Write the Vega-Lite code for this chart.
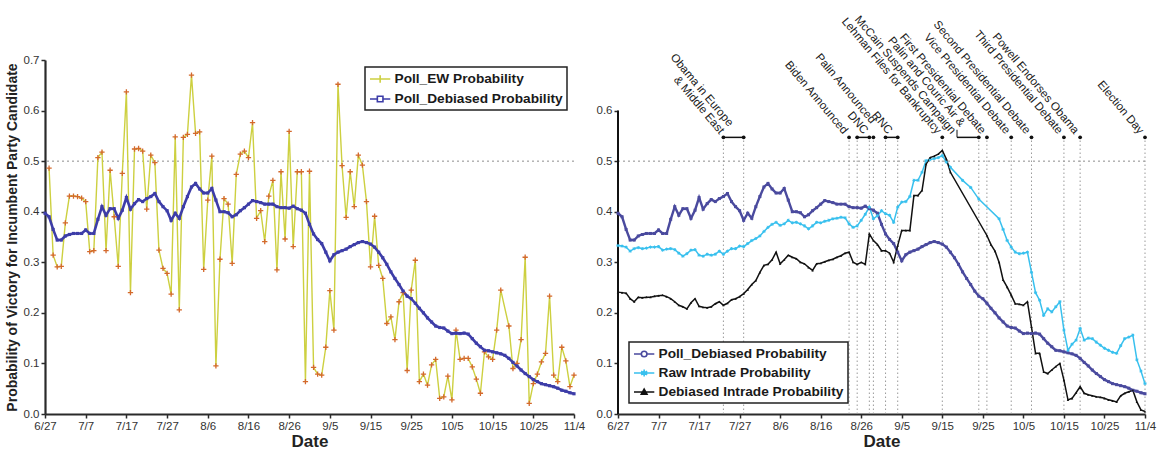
{
  "$schema": "https://vega.github.io/schema/vega-lite/v6.json",
  "background": "white",
  "padding": {"left": 5, "top": 6, "right": 5, "bottom": 2},
  "bounds": "flush",
  "spacing": 44,
  "config": {
    "view": {"stroke": null},
    "font": "Liberation Sans",
    "axis": {"domainColor": "#2a2a2a", "domainWidth": 2.2, "tickColor": "#2a2a2a", "tickSize": 4, "tickWidth": 1.5, "labelFontSize": 11.5, "labelColor": "#333", "labelFont": "Liberation Sans", "titleFont": "Liberation Sans", "titleFontWeight": "bold", "titleColor": "#222", "grid": false, "labelFlush": false},
    "legend": {"labelFont": "Liberation Sans", "labelFontSize": 13.7, "labelFontWeight": "bold", "labelColor": "#1a1a1a", "labelLimit": 0, "strokeColor": "#222", "strokeWidth": 1.5, "fillColor": "white", "padding": 4, "symbolSize": 196, "symbolStrokeWidth": 1.6, "labelOffset": 9.5, "rowPadding": 4, "title": null}
  },
  "datasets": {
    "names": [
      {"key": "ew", "series": "Poll_EW Probability"},
      {"key": "deb", "series": "Poll_Debiased Probability"},
      {"key": "raw", "series": "Raw Intrade Probability"},
      {"key": "dint", "series": "Debiased Intrade Probability"}
    ],
    "daily": [
      {"date": "2008-06-27", "ew": null, "deb": 0.397, "raw": 0.333, "dint": 0.241},
      {"date": "2008-06-28", "ew": 0.486, "deb": 0.39, "raw": 0.332, "dint": 0.24},
      {"date": "2008-06-29", "ew": 0.314, "deb": 0.365, "raw": 0.33, "dint": 0.239},
      {"date": "2008-06-30", "ew": 0.291, "deb": 0.344, "raw": 0.322, "dint": 0.228},
      {"date": "2008-07-01", "ew": 0.292, "deb": 0.344, "raw": 0.327, "dint": 0.222},
      {"date": "2008-07-02", "ew": 0.378, "deb": 0.352, "raw": 0.329, "dint": 0.231},
      {"date": "2008-07-03", "ew": 0.431, "deb": 0.355, "raw": 0.327, "dint": 0.23},
      {"date": "2008-07-04", "ew": 0.431, "deb": 0.357, "raw": 0.328, "dint": 0.231},
      {"date": "2008-07-05", "ew": 0.43, "deb": 0.357, "raw": 0.33, "dint": 0.231},
      {"date": "2008-07-06", "ew": 0.427, "deb": 0.357, "raw": 0.33, "dint": 0.233},
      {"date": "2008-07-07", "ew": 0.42, "deb": 0.364, "raw": 0.331, "dint": 0.234},
      {"date": "2008-07-08", "ew": 0.321, "deb": 0.357, "raw": 0.324, "dint": 0.235},
      {"date": "2008-07-09", "ew": 0.323, "deb": 0.357, "raw": 0.326, "dint": 0.232},
      {"date": "2008-07-10", "ew": 0.507, "deb": 0.385, "raw": 0.327, "dint": 0.228},
      {"date": "2008-07-11", "ew": 0.518, "deb": 0.41, "raw": 0.325, "dint": 0.222},
      {"date": "2008-07-12", "ew": 0.323, "deb": 0.393, "raw": 0.318, "dint": 0.215},
      {"date": "2008-07-13", "ew": 0.482, "deb": 0.406, "raw": 0.312, "dint": 0.212},
      {"date": "2008-07-14", "ew": 0.39, "deb": 0.406, "raw": 0.317, "dint": 0.208},
      {"date": "2008-07-15", "ew": 0.292, "deb": 0.387, "raw": 0.324, "dint": 0.22},
      {"date": "2008-07-16", "ew": 0.476, "deb": 0.403, "raw": 0.325, "dint": 0.228},
      {"date": "2008-07-17", "ew": 0.637, "deb": 0.428, "raw": 0.314, "dint": 0.213},
      {"date": "2008-07-18", "ew": 0.24, "deb": 0.405, "raw": 0.312, "dint": 0.211},
      {"date": "2008-07-19", "ew": 0.524, "deb": 0.416, "raw": 0.316, "dint": 0.21},
      {"date": "2008-07-20", "ew": 0.525, "deb": 0.424, "raw": 0.314, "dint": 0.212},
      {"date": "2008-07-21", "ew": 0.52, "deb": 0.42, "raw": 0.316, "dint": 0.218},
      {"date": "2008-07-22", "ew": 0.405, "deb": 0.426, "raw": 0.322, "dint": 0.222},
      {"date": "2008-07-23", "ew": 0.512, "deb": 0.43, "raw": 0.316, "dint": 0.215},
      {"date": "2008-07-24", "ew": 0.497, "deb": 0.436, "raw": 0.322, "dint": 0.219},
      {"date": "2008-07-25", "ew": 0.324, "deb": 0.42, "raw": 0.327, "dint": 0.226},
      {"date": "2008-07-26", "ew": 0.288, "deb": 0.41, "raw": 0.327, "dint": 0.228},
      {"date": "2008-07-27", "ew": 0.278, "deb": 0.402, "raw": 0.332, "dint": 0.232},
      {"date": "2008-07-28", "ew": 0.237, "deb": 0.383, "raw": 0.331, "dint": 0.238},
      {"date": "2008-07-29", "ew": 0.548, "deb": 0.397, "raw": 0.337, "dint": 0.246},
      {"date": "2008-07-30", "ew": 0.206, "deb": 0.387, "raw": 0.343, "dint": 0.256},
      {"date": "2008-07-31", "ew": 0.547, "deb": 0.41, "raw": 0.347, "dint": 0.264},
      {"date": "2008-08-01", "ew": 0.553, "deb": 0.43, "raw": 0.352, "dint": 0.28},
      {"date": "2008-08-02", "ew": 0.67, "deb": 0.449, "raw": 0.361, "dint": 0.294},
      {"date": "2008-08-03", "ew": 0.555, "deb": 0.456, "raw": 0.369, "dint": 0.296},
      {"date": "2008-08-04", "ew": 0.558, "deb": 0.445, "raw": 0.375, "dint": 0.305},
      {"date": "2008-08-05", "ew": 0.286, "deb": 0.437, "raw": 0.379, "dint": 0.32},
      {"date": "2008-08-06", "ew": 0.423, "deb": 0.437, "raw": 0.373, "dint": 0.297},
      {"date": "2008-08-07", "ew": 0.51, "deb": 0.446, "raw": 0.376, "dint": 0.305},
      {"date": "2008-08-08", "ew": 0.095, "deb": 0.423, "raw": 0.383, "dint": 0.314},
      {"date": "2008-08-09", "ew": 0.306, "deb": 0.4, "raw": 0.378, "dint": 0.31},
      {"date": "2008-08-10", "ew": 0.426, "deb": 0.4, "raw": 0.379, "dint": 0.307},
      {"date": "2008-08-11", "ew": 0.415, "deb": 0.398, "raw": 0.376, "dint": 0.3},
      {"date": "2008-08-12", "ew": 0.298, "deb": 0.39, "raw": 0.372, "dint": 0.297},
      {"date": "2008-08-13", "ew": 0.474, "deb": 0.394, "raw": 0.366, "dint": 0.29},
      {"date": "2008-08-14", "ew": 0.514, "deb": 0.402, "raw": 0.372, "dint": 0.284},
      {"date": "2008-08-15", "ew": 0.52, "deb": 0.408, "raw": 0.379, "dint": 0.297},
      {"date": "2008-08-16", "ew": 0.507, "deb": 0.415, "raw": 0.378, "dint": 0.298},
      {"date": "2008-08-17", "ew": 0.576, "deb": 0.422, "raw": 0.381, "dint": 0.301},
      {"date": "2008-08-18", "ew": 0.387, "deb": 0.42, "raw": 0.383, "dint": 0.304},
      {"date": "2008-08-19", "ew": 0.402, "deb": 0.418, "raw": 0.386, "dint": 0.306},
      {"date": "2008-08-20", "ew": 0.341, "deb": 0.415, "raw": 0.387, "dint": 0.31},
      {"date": "2008-08-21", "ew": 0.431, "deb": 0.415, "raw": 0.389, "dint": 0.313},
      {"date": "2008-08-22", "ew": 0.462, "deb": 0.415, "raw": 0.388, "dint": 0.318},
      {"date": "2008-08-23", "ew": 0.285, "deb": 0.41, "raw": 0.376, "dint": 0.32},
      {"date": "2008-08-24", "ew": 0.479, "deb": 0.408, "raw": 0.369, "dint": 0.3},
      {"date": "2008-08-25", "ew": 0.346, "deb": 0.408, "raw": 0.372, "dint": 0.296},
      {"date": "2008-08-26", "ew": 0.559, "deb": 0.407, "raw": 0.383, "dint": 0.3},
      {"date": "2008-08-27", "ew": 0.331, "deb": 0.411, "raw": 0.395, "dint": 0.296},
      {"date": "2008-08-28", "ew": 0.479, "deb": 0.406, "raw": 0.409, "dint": 0.356},
      {"date": "2008-08-29", "ew": 0.479, "deb": 0.403, "raw": 0.386, "dint": 0.343},
      {"date": "2008-08-30", "ew": 0.064, "deb": 0.397, "raw": 0.392, "dint": 0.335},
      {"date": "2008-08-31", "ew": 0.48, "deb": 0.375, "raw": 0.402, "dint": 0.323},
      {"date": "2008-09-01", "ew": 0.092, "deb": 0.356, "raw": 0.396, "dint": 0.323},
      {"date": "2008-09-02", "ew": 0.079, "deb": 0.345, "raw": 0.393, "dint": 0.318},
      {"date": "2008-09-03", "ew": 0.077, "deb": 0.337, "raw": 0.379, "dint": 0.3},
      {"date": "2008-09-04", "ew": 0.132, "deb": 0.32, "raw": 0.409, "dint": 0.333},
      {"date": "2008-09-05", "ew": 0.244, "deb": 0.303, "raw": 0.419, "dint": 0.363},
      {"date": "2008-09-06", "ew": 0.166, "deb": 0.315, "raw": 0.42, "dint": 0.363},
      {"date": "2008-09-07", "ew": 0.652, "deb": 0.32, "raw": 0.43, "dint": 0.363},
      {"date": "2008-09-08", "ew": 0.491, "deb": 0.323, "raw": 0.462, "dint": 0.432},
      {"date": "2008-09-09", "ew": 0.389, "deb": 0.326, "raw": 0.462, "dint": 0.432},
      {"date": "2008-09-10", "ew": 0.479, "deb": 0.331, "raw": 0.478, "dint": 0.442},
      {"date": "2008-09-11", "ew": 0.41, "deb": 0.335, "raw": 0.501, "dint": 0.494},
      {"date": "2008-09-12", "ew": 0.512, "deb": 0.339, "raw": 0.503, "dint": 0.507},
      {"date": "2008-09-13", "ew": 0.492, "deb": 0.341, "raw": 0.505, "dint": 0.51},
      {"date": "2008-09-14", "ew": 0.42, "deb": 0.339, "raw": 0.507, "dint": 0.514},
      {"date": "2008-09-15", "ew": 0.291, "deb": 0.336, "raw": 0.511, "dint": 0.521},
      {"date": "2008-09-16", "ew": 0.391, "deb": 0.33, "raw": 0.498, "dint": 0.504},
      {"date": "2008-09-17", "ew": 0.294, "deb": 0.32, "raw": 0.488, "dint": 0.478},
      {"date": "2008-09-18", "ew": 0.268, "deb": 0.309, "raw": null, "dint": null},
      {"date": "2008-09-19", "ew": 0.179, "deb": 0.296, "raw": null, "dint": null},
      {"date": "2008-09-20", "ew": 0.192, "deb": 0.281, "raw": 0.462, "dint": null},
      {"date": "2008-09-21", "ew": 0.147, "deb": 0.268, "raw": null, "dint": null},
      {"date": "2008-09-22", "ew": 0.222, "deb": 0.256, "raw": 0.448, "dint": null},
      {"date": "2008-09-23", "ew": 0.24, "deb": 0.243, "raw": null, "dint": null},
      {"date": "2008-09-24", "ew": 0.086, "deb": 0.233, "raw": 0.425, "dint": null},
      {"date": "2008-09-25", "ew": 0.245, "deb": 0.228, "raw": null, "dint": null},
      {"date": "2008-09-26", "ew": 0.304, "deb": 0.219, "raw": null, "dint": 0.353},
      {"date": "2008-09-27", "ew": 0.064, "deb": 0.209, "raw": null, "dint": 0.335},
      {"date": "2008-09-28", "ew": 0.079, "deb": 0.2, "raw": null, "dint": 0.322},
      {"date": "2008-09-29", "ew": 0.057, "deb": 0.19, "raw": 0.386, "dint": 0.3},
      {"date": "2008-09-30", "ew": 0.097, "deb": 0.182, "raw": 0.365, "dint": 0.265},
      {"date": "2008-10-01", "ew": 0.108, "deb": 0.174, "raw": 0.343, "dint": 0.251},
      {"date": "2008-10-02", "ew": 0.031, "deb": 0.171, "raw": 0.33, "dint": 0.235},
      {"date": "2008-10-03", "ew": 0.034, "deb": 0.17, "raw": 0.32, "dint": 0.218},
      {"date": "2008-10-04", "ew": 0.075, "deb": 0.164, "raw": 0.317, "dint": 0.217},
      {"date": "2008-10-05", "ew": 0.028, "deb": 0.159, "raw": 0.318, "dint": 0.215},
      {"date": "2008-10-06", "ew": 0.166, "deb": 0.16, "raw": 0.32, "dint": 0.222},
      {"date": "2008-10-07", "ew": 0.108, "deb": 0.159, "raw": 0.28, "dint": 0.172},
      {"date": "2008-10-08", "ew": 0.11, "deb": 0.16, "raw": 0.24, "dint": 0.12},
      {"date": "2008-10-09", "ew": 0.11, "deb": 0.158, "raw": 0.225, "dint": 0.12},
      {"date": "2008-10-10", "ew": 0.093, "deb": 0.149, "raw": 0.195, "dint": 0.083},
      {"date": "2008-10-11", "ew": 0.069, "deb": 0.14, "raw": 0.208, "dint": 0.08},
      {"date": "2008-10-12", "ew": 0.041, "deb": 0.133, "raw": 0.202, "dint": 0.087},
      {"date": "2008-10-13", "ew": 0.123, "deb": 0.126, "raw": 0.212, "dint": 0.094},
      {"date": "2008-10-14", "ew": 0.113, "deb": 0.125, "raw": 0.222, "dint": 0.1},
      {"date": "2008-10-15", "ew": 0.108, "deb": 0.123, "raw": 0.166, "dint": 0.067},
      {"date": "2008-10-16", "ew": 0.166, "deb": 0.121, "raw": 0.126, "dint": 0.028},
      {"date": "2008-10-17", "ew": 0.245, "deb": 0.119, "raw": 0.138, "dint": 0.031},
      {"date": "2008-10-18", "ew": null, "deb": 0.116, "raw": 0.146, "dint": 0.042},
      {"date": "2008-10-19", "ew": 0.174, "deb": 0.11, "raw": 0.169, "dint": 0.054},
      {"date": "2008-10-20", "ew": 0.09, "deb": 0.102, "raw": 0.146, "dint": 0.041},
      {"date": "2008-10-21", "ew": 0.1, "deb": 0.095, "raw": 0.15, "dint": 0.038},
      {"date": "2008-10-22", "ew": 0.147, "deb": 0.087, "raw": 0.149, "dint": 0.036},
      {"date": "2008-10-23", "ew": 0.31, "deb": 0.08, "raw": 0.142, "dint": 0.034},
      {"date": "2008-10-24", "ew": 0.021, "deb": 0.074, "raw": 0.136, "dint": 0.033},
      {"date": "2008-10-25", "ew": 0.06, "deb": 0.068, "raw": 0.13, "dint": 0.031},
      {"date": "2008-10-26", "ew": 0.079, "deb": 0.064, "raw": 0.126, "dint": 0.028},
      {"date": "2008-10-27", "ew": 0.103, "deb": 0.06, "raw": 0.122, "dint": 0.026},
      {"date": "2008-10-28", "ew": 0.12, "deb": 0.058, "raw": 0.12, "dint": 0.024},
      {"date": "2008-10-29", "ew": 0.233, "deb": 0.056, "raw": 0.135, "dint": 0.036},
      {"date": "2008-10-30", "ew": 0.077, "deb": 0.054, "raw": 0.149, "dint": 0.041},
      {"date": "2008-10-31", "ew": 0.064, "deb": 0.051, "raw": 0.152, "dint": 0.044},
      {"date": "2008-11-01", "ew": 0.132, "deb": 0.047, "raw": 0.156, "dint": 0.047},
      {"date": "2008-11-02", "ew": 0.105, "deb": 0.045, "raw": 0.107, "dint": 0.024},
      {"date": "2008-11-03", "ew": 0.054, "deb": 0.042, "raw": 0.085, "dint": 0.008},
      {"date": "2008-11-04", "ew": 0.077, "deb": 0.04, "raw": 0.06, "dint": 0.005}
    ],
    "events": [
      {"date": "2008-07-23"}, {"date": "2008-07-28"}, {"date": "2008-08-23"}, {"date": "2008-08-25"},
      {"date": "2008-08-28"}, {"date": "2008-08-29"}, {"date": "2008-09-01"}, {"date": "2008-09-04"},
      {"date": "2008-09-15"}, {"date": "2008-09-24"}, {"date": "2008-09-26"}, {"date": "2008-10-02"},
      {"date": "2008-10-07"}, {"date": "2008-10-15"}, {"date": "2008-10-19"}, {"date": "2008-11-04"}
    ],
    "spans": [
      {"start": "2008-07-23", "end": "2008-07-28"},
      {"start": "2008-08-25", "end": "2008-08-28"},
      {"start": "2008-09-01", "end": "2008-09-04"},
      {"start": "2008-09-18T15:00:00Z", "end": "2008-09-24"}
    ],
    "labels": [
      {"at": "2008-07-23T12:00:00Z", "label": "Obama in Europe\n& Middle East"},
      {"at": "2008-08-23", "label": "Biden Announced"},
      {"at": "2008-08-28", "label": "DNC"},
      {"at": "2008-08-29T12:00:00Z", "label": "Palin Announced"},
      {"at": "2008-09-03", "label": "RNC"},
      {"at": "2008-09-15", "label": "Lehman Files for Bankruptcy"},
      {"at": "2008-09-18T15:00:00Z", "label": "Palin and Couric Air &\nMcCain Suspends Campaign"},
      {"at": "2008-09-26", "label": "First Presidential Debate"},
      {"at": "2008-10-02", "label": "Vice Presidential Debate"},
      {"at": "2008-10-07", "label": "Second Presidential Debate"},
      {"at": "2008-10-15", "label": "Third Presidential Debate"},
      {"at": "2008-10-19", "label": "Powell Endorses Obama"},
      {"at": "2008-11-04", "label": "Election Day"}
    ]
  },
  "resolve": {"scale": {"color": "independent"}, "legend": {"color": "independent"}},
  "hconcat": [
    {
      "width": 529,
      "height": 354,
      "data": {"name": "daily"},
      "transform": [
        {"fold": ["ew", "deb"], "as": ["key", "value"]},
        {"filter": "isValid(datum.value)"},
        {"lookup": "key", "from": {"data": {"name": "names"}, "key": "key", "fields": ["series"]}}
      ],
      "layer": [
        {
          "transform": [{"aggregate": [{"op": "count", "as": "n"}]}],
          "mark": {"type": "rule", "color": "#8c8c8c", "strokeDash": [2, 3], "strokeWidth": 1},
          "encoding": {"y": {"datum": 0.5, "type": "quantitative"}}
        },
        {
          "transform": [{"filter": "datum.key === 'ew'"}],
          "mark": {"type": "line", "strokeWidth": 1.4},
          "encoding": {
            "x": {"field": "date", "type": "temporal", "title": "Date",
              "scale": {"type": "utc", "domain": [{"year": 2008, "month": 6, "date": 27, "utc": true}, {"year": 2008, "month": 11, "date": 4, "utc": true}]},
              "axis": {"values": [
                {"year": 2008, "month": 6, "date": 27, "utc": true}, {"year": 2008, "month": 7, "date": 7, "utc": true},
                {"year": 2008, "month": 7, "date": 17, "utc": true}, {"year": 2008, "month": 7, "date": 27, "utc": true},
                {"year": 2008, "month": 8, "date": 6, "utc": true}, {"year": 2008, "month": 8, "date": 16, "utc": true},
                {"year": 2008, "month": 8, "date": 26, "utc": true}, {"year": 2008, "month": 9, "date": 5, "utc": true},
                {"year": 2008, "month": 9, "date": 15, "utc": true}, {"year": 2008, "month": 9, "date": 25, "utc": true},
                {"year": 2008, "month": 10, "date": 5, "utc": true}, {"year": 2008, "month": 10, "date": 15, "utc": true},
                {"year": 2008, "month": 10, "date": 25, "utc": true}, {"year": 2008, "month": 11, "date": 4, "utc": true}],
                "labelExpr": "utcFormat(datum.value, '%-m/%-d')", "titleFontSize": 17, "titlePadding": 2}},
            "y": {"field": "value", "type": "quantitative",
              "scale": {"domain": [0, 0.7], "nice": false},
              "axis": {"values": [0, 0.1, 0.2, 0.3, 0.4, 0.5, 0.6, 0.7], "format": ".1f", "title": "Probability of Victory for Incumbent Party Candidate", "titleFontSize": 14, "titlePadding": 4}},
            "color": {"field": "series", "type": "nominal",
              "scale": {"domain": ["Poll_EW Probability", "Poll_Debiased Probability"], "range": ["#cdd040", "#3d3da8"]},
              "legend": {"orient": "top-right", "offset": 7,
                "encode": {"symbols": {"update": {
                  "shape": {"signal": "datum.value === 'Poll_EW Probability' ? 'M-1,0H1.9M0.45,-0.55V0.55M-0.1,0H1' : 'M-1,0H0.05M0.85,0H1.9M0.05,-0.4H0.85V0.4H0.05Z'"},
                  "fill": {"value": "transparent"},
                  "strokeWidth": {"value": 1.6}}}}}}
          }
        },
        {
          "transform": [{"filter": "datum.key === 'deb'"}],
          "mark": {"type": "line", "strokeWidth": 2.6},
          "encoding": {
            "x": {"field": "date", "type": "temporal"},
            "y": {"field": "value", "type": "quantitative"},
            "color": {"field": "series", "type": "nominal"}
          }
        },
        {
          "transform": [{"filter": "datum.key === 'ew'"}],
          "mark": {"type": "point", "shape": "M-1,0H1M0,-1V1", "filled": false, "stroke": "#d4692c", "size": 28, "strokeWidth": 1.3, "opacity": 1},
          "encoding": {
            "x": {"field": "date", "type": "temporal"},
            "y": {"field": "value", "type": "quantitative"}
          }
        },
        {
          "transform": [{"filter": "datum.key === 'deb'"}],
          "mark": {"type": "point", "shape": "square", "filled": true, "color": "#3d3da8", "size": 10, "opacity": 1},
          "encoding": {
            "x": {"field": "date", "type": "temporal"},
            "y": {"field": "value", "type": "quantitative"}
          }
        }
      ]
    },
    {
      "width": 527,
      "height": 354,
      "data": {"name": "daily"},
      "transform": [
        {"fold": ["deb", "raw", "dint"], "as": ["key", "value"]},
        {"filter": "isValid(datum.value)"},
        {"lookup": "key", "from": {"data": {"name": "names"}, "key": "key", "fields": ["series"]}}
      ],
      "layer": [
        {
          "transform": [{"aggregate": [{"op": "count", "as": "n"}]}],
          "mark": {"type": "rule", "color": "#8c8c8c", "strokeDash": [2, 3], "strokeWidth": 1},
          "encoding": {"y": {"datum": 0.5, "type": "quantitative"}}
        },
        {
          "data": {"name": "events"},
          "mark": {"type": "rule", "color": "#9a9a9a", "strokeDash": [1.5, 2.5], "strokeWidth": 1},
          "encoding": {
            "x": {"field": "date", "type": "temporal"},
            "y": {"datum": 0, "type": "quantitative"},
            "y2": {"datum": 0.547}
          }
        },
        {
          "data": {"name": "spans"},
          "mark": {"type": "rule", "color": "#111", "strokeWidth": 1.5},
          "encoding": {
            "x": {"field": "start", "type": "temporal"},
            "x2": {"field": "end"},
            "y": {"datum": 0.547, "type": "quantitative"}
          }
        },
        {
          "data": {"values": [{"date": "2008-09-18T15:00:00Z"}]},
          "mark": {"type": "rule", "color": "#111", "strokeWidth": 1},
          "encoding": {
            "x": {"field": "date", "type": "temporal"},
            "y": {"datum": 0.547, "type": "quantitative"},
            "y2": {"datum": 0.562}
          }
        },
        {
          "data": {"name": "events"},
          "mark": {"type": "point", "shape": "circle", "filled": true, "color": "#111", "size": 14, "opacity": 1},
          "encoding": {
            "x": {"field": "date", "type": "temporal"},
            "y": {"datum": 0.547, "type": "quantitative"}
          }
        },
        {
          "data": {"name": "labels"},
          "transform": [{"filter": "indexof(datum.label, '\\n') < 0 && datum.label !== 'Palin Announced'"}],
          "mark": {"type": "text", "angle": 50, "align": "right", "baseline": "bottom", "dx": -6, "dy": 5, "fontSize": 11.6, "font": "Liberation Sans", "color": "#1a1a1a"},
          "encoding": {
            "x": {"field": "at", "type": "temporal"},
            "y": {"datum": 0.547, "type": "quantitative"},
            "text": {"field": "label"}
          }
        },
        {
          "data": {"name": "labels"},
          "transform": [{"filter": "indexof(datum.label, '\\n') >= 0"}],
          "mark": {"type": "text", "angle": 50, "align": "right", "baseline": "bottom", "dx": -6, "dy": -6.8, "fontSize": 11.6, "font": "Liberation Sans", "color": "#1a1a1a", "lineBreak": "\n", "lineHeight": 11.8},
          "encoding": {
            "x": {"field": "at", "type": "temporal"},
            "y": {"datum": 0.547, "type": "quantitative"},
            "text": {"field": "label"}
          }
        },
        {
          "data": {"name": "labels"},
          "transform": [{"filter": "datum.label === 'Palin Announced'"}],
          "mark": {"type": "text", "angle": 50, "align": "right", "baseline": "bottom", "dx": -13, "dy": -3, "fontSize": 11.6, "font": "Liberation Sans", "color": "#1a1a1a"},
          "encoding": {
            "x": {"field": "at", "type": "temporal"},
            "y": {"datum": 0.547, "type": "quantitative"},
            "text": {"field": "label"}
          }
        },
        {
          "transform": [{"aggregate": [{"op": "count", "as": "n"}]}],
          "mark": {"type": "rule", "color": "#111", "strokeWidth": 2},
          "encoding": {
            "x": {"datum": {"year": 2008, "month": 6, "date": 27, "utc": true}, "type": "temporal"},
            "y": {"datum": 0, "type": "quantitative"},
            "y2": {"datum": 0.6}
          }
        },
        {
          "transform": [{"filter": "datum.key === 'deb'"}],
          "mark": {"type": "line", "strokeWidth": 2.4},
          "encoding": {
            "x": {"field": "date", "type": "temporal", "title": "Date",
              "scale": {"type": "utc", "domain": [{"year": 2008, "month": 6, "date": 27, "utc": true}, {"year": 2008, "month": 11, "date": 4, "utc": true}]},
              "axis": {"values": [
                {"year": 2008, "month": 6, "date": 27, "utc": true}, {"year": 2008, "month": 7, "date": 7, "utc": true},
                {"year": 2008, "month": 7, "date": 17, "utc": true}, {"year": 2008, "month": 7, "date": 27, "utc": true},
                {"year": 2008, "month": 8, "date": 6, "utc": true}, {"year": 2008, "month": 8, "date": 16, "utc": true},
                {"year": 2008, "month": 8, "date": 26, "utc": true}, {"year": 2008, "month": 9, "date": 5, "utc": true},
                {"year": 2008, "month": 9, "date": 15, "utc": true}, {"year": 2008, "month": 9, "date": 25, "utc": true},
                {"year": 2008, "month": 10, "date": 5, "utc": true}, {"year": 2008, "month": 10, "date": 15, "utc": true},
                {"year": 2008, "month": 10, "date": 25, "utc": true}, {"year": 2008, "month": 11, "date": 4, "utc": true}],
                "labelExpr": "utcFormat(datum.value, '%-m/%-d')", "titleFontSize": 17, "titlePadding": 2}},
            "y": {"field": "value", "type": "quantitative",
              "scale": {"domain": [0, 0.7], "nice": false},
              "axis": {"values": [0, 0.1, 0.2, 0.3, 0.4, 0.5, 0.6], "format": ".1f", "title": null, "domain": false}},
            "color": {"field": "series", "type": "nominal",
              "scale": {"domain": ["Poll_Debiased Probability", "Raw Intrade Probability", "Debiased Intrade Probability"], "range": ["#4a4a9e", "#38c0ee", "#111111"]},
              "legend": {"orient": "bottom-left", "offset": 11,
                "encode": {"symbols": {"update": {
                  "shape": {"signal": "datum.value === 'Raw Intrade Probability' ? 'M-1,0H1.9M0.45,-0.5V0.5M0.02,-0.25L0.88,0.25M0.02,0.25L0.88,-0.25' : datum.value === 'Debiased Intrade Probability' ? 'M-1,0H1.9M0.05,0.3L0.45,-0.4L0.85,0.3Z' : 'M-1,0H0.05M0.85,0H1.9M0.05,0A0.4,0.4,0,1,1,0.85,0A0.4,0.4,0,1,1,0.05,0Z'"},
                  "fill": {"signal": "datum.value === 'Debiased Intrade Probability' ? '#111111' : 'transparent'"},
                  "strokeWidth": {"value": 1.6}}}}}}
          }
        },
        {
          "transform": [{"filter": "datum.key === 'raw'"}],
          "mark": {"type": "line", "strokeWidth": 1.5},
          "encoding": {
            "x": {"field": "date", "type": "temporal"},
            "y": {"field": "value", "type": "quantitative"},
            "color": {"field": "series", "type": "nominal"}
          }
        },
        {
          "transform": [{"filter": "datum.key === 'dint'"}],
          "mark": {"type": "line", "strokeWidth": 1.5},
          "encoding": {
            "x": {"field": "date", "type": "temporal"},
            "y": {"field": "value", "type": "quantitative"},
            "color": {"field": "series", "type": "nominal"}
          }
        },
        {
          "transform": [{"filter": "datum.key === 'deb'"}],
          "mark": {"type": "point", "shape": "square", "filled": true, "color": "#4a4a9e", "size": 9, "opacity": 1},
          "encoding": {
            "x": {"field": "date", "type": "temporal"},
            "y": {"field": "value", "type": "quantitative"}
          }
        },
        {
          "transform": [{"filter": "datum.key === 'raw'"}],
          "mark": {"type": "point", "shape": "M-1,0H1M0,-1V1M-0.7,-0.7L0.7,0.7M-0.7,0.7L0.7,-0.7", "filled": false, "stroke": "#38c0ee", "size": 10, "strokeWidth": 1, "opacity": 1},
          "encoding": {
            "x": {"field": "date", "type": "temporal"},
            "y": {"field": "value", "type": "quantitative"}
          }
        },
        {
          "transform": [{"filter": "datum.key === 'dint'"}],
          "mark": {"type": "point", "shape": "triangle-up", "filled": true, "color": "#111", "size": 6, "opacity": 1},
          "encoding": {
            "x": {"field": "date", "type": "temporal"},
            "y": {"field": "value", "type": "quantitative"}
          }
        }
      ]
    }
  ]
}
